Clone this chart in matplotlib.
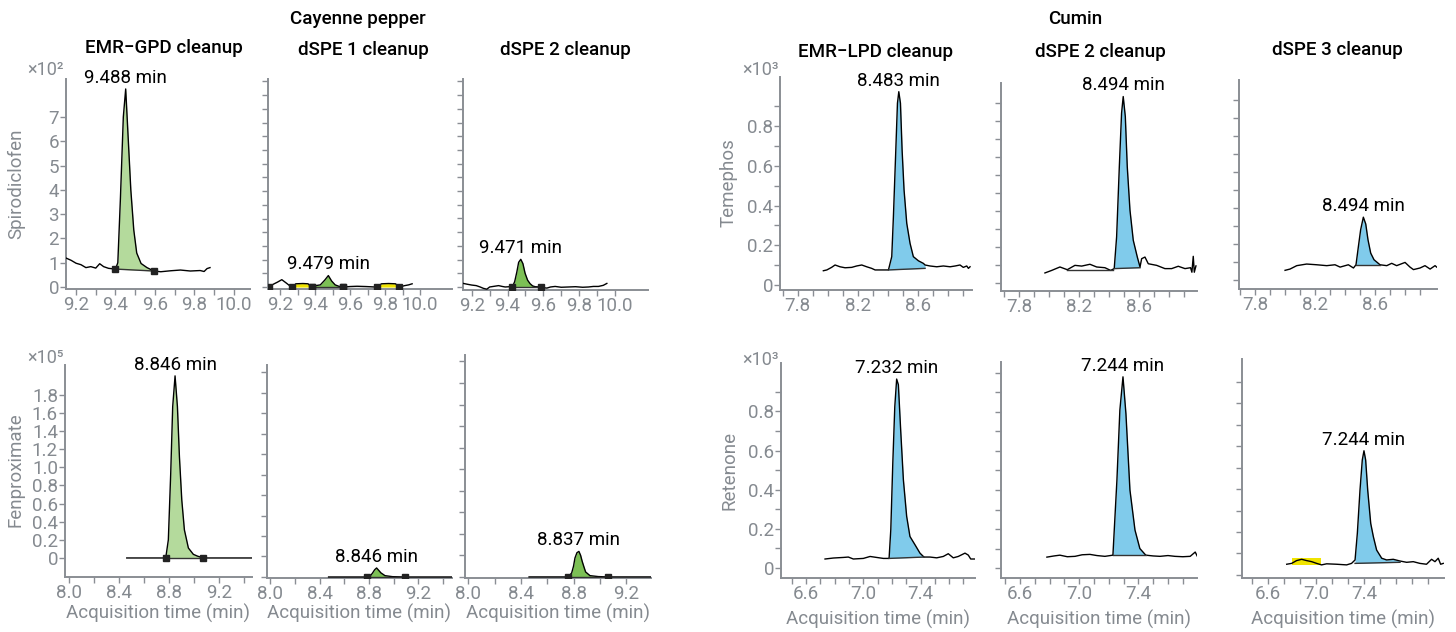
"""Chromatogramas: Cayenne pepper / Cumin, comparação de cleanups"""

import matplotlib
matplotlib.use('Agg')
import matplotlib.pyplot as plt
import numpy as np

plt.rcParams['font.family'] = ['Roboto', 'DejaVu Sans']

W, H = 1456, 632

# ---------------- dados (tempo em min, sinal no multiplicador do eixo) ----------------
# Cayenne pepper - Spirodiclofen (x10^2)
t_spiro_gpd = [9.150, 9.175, 9.200, 9.225, 9.250, 9.275, 9.300, 9.320, 9.340, 9.365,
               9.400, 9.412, 9.425, 9.440, 9.452, 9.463, 9.478, 9.493, 9.508, 9.530,
               9.560, 9.595, 9.630, 9.680, 9.730, 9.780, 9.830, 9.850, 9.865, 9.880]
y_spiro_gpd = [1.19, 1.10, 0.98, 0.92, 0.80, 0.84, 0.78, 0.96, 0.84, 0.77,
               0.74, 1.00, 3.60, 7.00, 8.15, 6.40, 4.00, 2.35, 1.40, 0.97,
               0.80, 0.66, 0.63, 0.67, 0.70, 0.66, 0.68, 0.64, 0.76, 0.80]

t_spiro_dspe1 = [9.139, 9.160, 9.185, 9.210, 9.235, 9.255, 9.270, 9.290, 9.330, 9.360,
                 9.381, 9.400, 9.430, 9.455, 9.476, 9.495, 9.515, 9.540, 9.562, 9.600,
                 9.640, 9.690, 9.752, 9.780, 9.820, 9.860, 9.882, 9.910, 9.935, 9.955]
y_spiro_dspe1 = [0.00, 0.10, 0.18, 0.27, 0.15, 0.05, 0.00, 0.12, 0.13, 0.12,
                 0.00, 0.05, 0.08, 0.25, 0.42, 0.22, 0.08, 0.02, 0.00, 0.02,
                 0.03, 0.02, 0.00, 0.12, 0.13, 0.12, 0.00, 0.05, 0.08, 0.12]

t_spiro_dspe2 = [9.153, 9.175, 9.200, 9.225, 9.247, 9.265, 9.284, 9.300, 9.320, 9.350,
                 9.370, 9.387, 9.410, 9.427, 9.440, 9.452, 9.462, 9.474, 9.486, 9.498,
                 9.512, 9.526, 9.540, 9.554, 9.585, 9.605, 9.620, 9.640, 9.666, 9.700,
                 9.740, 9.780, 9.820, 9.852, 9.880, 9.908, 9.935, 9.955]
y_spiro_dspe2 = [0.13, 0.10, 0.07, 0.05, 0.00, -0.05, -0.08, 0.00, 0.02, 0.05,
                 0.02, 0.00, 0.01, 0.00, 0.20, 0.55, 0.90, 1.01, 0.85, 0.50,
                 0.25, 0.12, 0.04, 0.01, 0.00, -0.03, -0.04, 0.00, 0.02, -0.01,
                 0.00, 0.01, -0.01, 0.00, 0.02, 0.02, 0.06, 0.13]

# Cayenne pepper - Fenproximate (x10^5)
t_fenp_gpd = [8.461, 8.550, 8.650, 8.774, 8.795, 8.814, 8.830, 8.849, 8.868, 8.884,
              8.903, 8.924, 8.956, 8.996, 9.030, 9.076, 9.180, 9.300, 9.465]
y_fenp_gpd = [0.0, 0.0, 0.0, 0.0, 0.20, 0.93, 1.67, 2.01, 1.67, 1.12,
              0.64, 0.31, 0.11, 0.04, 0.02, 0.0, 0.0, 0.0, 0.0]

t_fenp_dspe1 = [8.472, 8.600, 8.700, 8.783, 8.810, 8.829, 8.845, 8.861, 8.878, 8.896,
                8.929, 8.990, 9.088, 9.200, 9.350, 9.472]
y_fenp_dspe1 = [0.0, 0.0, 0.0, 0.0, 0.010, 0.040, 0.070, 0.088, 0.065, 0.040,
                0.013, 0.003, 0.0, 0.0, 0.0, 0.0]

t_fenp_dspe2 = [8.462, 8.600, 8.700, 8.760, 8.786, 8.800, 8.811, 8.826, 8.841, 8.854,
                8.866, 8.880, 8.892, 8.925, 8.989, 9.064, 9.200, 9.389]
y_fenp_dspe2 = [0.0, 0.0, 0.0, 0.0, 0.037, 0.100, 0.176, 0.225, 0.237, 0.200,
                0.144, 0.090, 0.046, 0.012, 0.003, 0.0, 0.0, 0.0]

# Cumin - Temephos (x10^3)
t_teme_lpd = [7.971, 7.994, 8.026, 8.049, 8.082, 8.116, 8.160, 8.193, 8.227, 8.260,
              8.293, 8.316, 8.356, 8.405, 8.427, 8.438, 8.454, 8.465, 8.474, 8.485,
              8.496, 8.509, 8.527, 8.549, 8.571, 8.605, 8.638, 8.649, 8.682, 8.727,
              8.771, 8.816, 8.850, 8.882, 8.904, 8.927, 8.938, 8.949]
y_teme_lpd = [0.072, 0.076, 0.089, 0.101, 0.092, 0.087, 0.089, 0.096, 0.101, 0.092,
              0.084, 0.076, 0.076, 0.076, 0.143, 0.344, 0.680, 0.916, 0.974, 0.916,
              0.680, 0.479, 0.311, 0.210, 0.143, 0.122, 0.109, 0.101, 0.096, 0.092,
              0.096, 0.092, 0.096, 0.101, 0.089, 0.096, 0.084, 0.092]

t_teme_dspe2 = [7.973, 8.018, 8.073, 8.122, 8.173, 8.218, 8.273, 8.318, 8.373, 8.411,
                8.435, 8.451, 8.469, 8.484, 8.495, 8.509, 8.522, 8.540, 8.562, 8.589,
                8.607, 8.618, 8.640, 8.662, 8.718, 8.773, 8.818, 8.862, 8.907, 8.944,
                8.953, 8.962, 8.969, 8.980]
y_teme_dspe2 = [0.056, 0.070, 0.089, 0.074, 0.098, 0.094, 0.104, 0.089, 0.085, 0.070,
                0.080, 0.256, 0.644, 0.941, 1.033, 0.922, 0.644, 0.404, 0.237, 0.144,
                0.089, 0.135, 0.144, 0.107, 0.098, 0.080, 0.080, 0.093, 0.080, 0.085,
                0.060, 0.148, 0.060, 0.095]
# linha de base antiga (segmento reto) no dSPE 2
t_teme_dspe2_old = [8.122, 8.430]
y_teme_dspe2_old = [0.072, 0.072]

t_teme_dspe3 = [8.000, 8.033, 8.078, 8.144, 8.211, 8.278, 8.333, 8.367, 8.422, 8.456,
                8.473, 8.489, 8.504, 8.522, 8.538, 8.553, 8.571, 8.593, 8.633, 8.678,
                8.711, 8.744, 8.800, 8.833, 8.856, 8.900, 8.933, 8.967, 9.000, 9.011]
y_teme_dspe3 = [0.052, 0.059, 0.078, 0.087, 0.083, 0.078, 0.083, 0.070, 0.083, 0.065,
                0.083, 0.185, 0.278, 0.348, 0.310, 0.222, 0.148, 0.111, 0.083, 0.078,
                0.091, 0.078, 0.096, 0.070, 0.056, 0.065, 0.078, 0.059, 0.078, 0.070]

# Cumin - Retenone (x10^3)
t_rete_lpd = [6.732, 6.790, 6.860, 6.895, 6.930, 7.000, 7.047, 7.093, 7.140, 7.180,
              7.192, 7.206, 7.220, 7.233, 7.245, 7.261, 7.280, 7.303, 7.326, 7.361,
              7.396, 7.424, 7.466, 7.513, 7.559, 7.594, 7.629, 7.664, 7.711, 7.734,
              7.751, 7.781]
y_rete_lpd = [0.046, 0.051, 0.054, 0.056, 0.046, 0.049, 0.059, 0.054, 0.049, 0.049,
              0.196, 0.536, 0.825, 0.965, 0.936, 0.706, 0.451, 0.264, 0.161, 0.119,
              0.076, 0.056, 0.056, 0.052, 0.059, 0.073, 0.052, 0.059, 0.076, 0.066,
              0.046, 0.046]

t_rete_dspe2 = [6.782, 6.830, 6.870, 6.920, 6.972, 7.020, 7.073, 7.120, 7.174, 7.228,
                7.255, 7.275, 7.296, 7.316, 7.343, 7.377, 7.410, 7.450, 7.500, 7.546,
                7.600, 7.647, 7.700, 7.750, 7.784, 7.797]
y_rete_dspe2 = [0.056, 0.062, 0.066, 0.058, 0.060, 0.068, 0.070, 0.064, 0.060, 0.066,
                0.450, 0.810, 0.980, 0.790, 0.400, 0.195, 0.100, 0.066, 0.062, 0.060,
                0.064, 0.060, 0.058, 0.060, 0.082, 0.062]

t_rete_dspe3 = [6.758, 6.799, 6.840, 6.882, 6.923, 6.965, 7.006, 7.047, 7.089, 7.172,
                7.255, 7.296, 7.325, 7.344, 7.366, 7.385, 7.399, 7.413, 7.430, 7.455,
                7.477, 7.504, 7.546, 7.587, 7.642, 7.698, 7.753, 7.808, 7.863, 7.918,
                7.960, 7.988, 8.015, 8.035, 8.057]
y_rete_dspe3 = [0.050, 0.054, 0.067, 0.073, 0.067, 0.062, 0.054, 0.047, 0.052, 0.050,
                0.047, 0.054, 0.070, 0.194, 0.395, 0.535, 0.578, 0.535, 0.395, 0.240,
                0.178, 0.116, 0.078, 0.070, 0.073, 0.065, 0.059, 0.062, 0.054, 0.050,
                0.073, 0.062, 0.078, 0.050, 0.054]

# rótulos de tempo de retenção
rt_labels = ['9.488 min', '9.479 min', '9.471 min', '8.846 min', '8.846 min', '8.837 min',
             '8.483 min', '8.494 min', '8.494 min', '7.232 min', '7.244 min', '7.244 min']

# integração: (início, fim, base início, base fim)
area_spiro_gpd = (9.400, 9.595, 0.74, 0.66)
area_spiro_dspe1 = (9.381, 9.562, 0.0, 0.0)
area_spiro_dspe2 = (9.427, 9.585, 0.0, 0.0)
area_fenp_gpd = (8.774, 9.076, 0.0, 0.0)
area_fenp_dspe1 = (8.783, 9.088, 0.0, 0.0)
area_fenp_dspe2 = (8.760, 9.064, 0.0, 0.0)
area_teme_lpd = (8.405, 8.649, 0.076, 0.084)
area_teme_dspe2 = (8.435, 8.607, 0.080, 0.085)
area_teme_dspe3 = (8.473, 8.633, 0.083, 0.083)
area_rete_lpd = (7.180, 7.424, 0.049, 0.056)
area_rete_dspe2 = (7.228, 7.450, 0.066, 0.066)
area_rete_dspe3 = (7.325, 7.698, 0.054, 0.059)

# regiões extras no dSPE 1 (spirodiclofen)
yellow_spiro_dspe1 = [(9.270, 9.381), (9.752, 9.882)]
gray_spiro_dspe1 = [(9.562, 9.752)]
marks_spiro_dspe1 = [9.139, 9.270, 9.381, 9.562, 9.752, 9.882]
# caixa amarela no dSPE 3 (retenone)
yellow_rete_dspe3_t = [6.800, 7.040]
yellow_rete_dspe3_y = [0.048, 0.080]

GRAY = '#8a8e94'
TXT_GRAY = '#858a90'
GREEN_LIGHT = '#b4da9c'
GREEN = '#7cc055'
BLUE = '#80cbeb'
YELLOW = '#f0e400'
FS = 13.5


def rect(left, top, right, bottom):
    return [left / W, 1 - bottom / H, (right - left) / W, (bottom - top) / H]


def fig_text(fig, px, py, s, **kw):
    fig.text(px / W, 1 - py / H, s, **kw)


def style_axes(ax):
    for s in ['top', 'right']:
        ax.spines[s].set_visible(False)
    for s in ['left', 'bottom']:
        ax.spines[s].set_color(GRAY)
        ax.spines[s].set_linewidth(1.4)
    ax.tick_params(which='both', colors=GRAY, labelcolor=TXT_GRAY, labelsize=FS,
                   length=4.0, width=1.0, pad=1.0)
    ax.patch.set_alpha(0)


def draw_trace(ax, t, y, area, color, label, markers=True):
    t = np.asarray(t)
    y = np.asarray(y)
    t0, t1, b0, b1 = area
    m = (t >= t0 - 1e-9) & (t <= t1 + 1e-9)
    base = np.interp(t[m], [t0, t1], [b0, b1])
    ax.fill_between(t[m], y[m], base, color=color, lw=0, zorder=1)
    ax.plot(t, y, color='black', lw=1.0, zorder=3)
    ax.plot([t0, t1], [b0, b1], color='#333333', lw=1.0, zorder=3)
    if markers:
        ax.plot([t0, t1], [b0, b1], 's', ms=4.5, color='#222222', zorder=4)
    ip = int(np.argmax(y))
    ax.annotate(label, (t[ip], y[ip]), xytext=(0, 1.5), textcoords='offset points',
                ha='center', va='bottom', fontsize=FS, color='black', zorder=5)


def fill_region(ax, t, y, t0, t1, color):
    t = np.asarray(t)
    y = np.asarray(y)
    m = (t >= t0 - 1e-9) & (t <= t1 + 1e-9)
    ax.fill_between(t[m], y[m], 0, color=color, lw=0, zorder=2)


fig = plt.figure(figsize=(W / 100, H / 100), dpi=100)

x_spiro = dict(major=[9.2, 9.4, 9.6, 9.8, 10.0], labels=['9.2', '9.4', '9.6', '9.8', '10.0'],
               minor=np.arange(9.2, 10.05, 0.1))
x_fenp = dict(major=[8.0, 8.4, 8.8, 9.2], labels=['8.0', '8.4', '8.8', '9.2'],
              minor=[8.2, 8.6, 9.0, 9.4])
x_teme = dict(major=[7.8, 8.2, 8.6], labels=['7.8', '8.2', '8.6'],
              minor=np.arange(7.7, 8.95, 0.1))
x_rete = dict(major=[6.6, 7.0, 7.4], labels=['6.6', '7.0', '7.4'],
              minor=np.arange(6.5, 7.75, 0.1))
x_rete3 = dict(major=[6.6, 7.0, 7.4], labels=['6.6', '7.0', '7.4'],
               minor=6.6 + np.arange(-1, 11) * 0.4 / 3)

panels = [
    # caixa px (esq, topo, dir, base), limites, ticks
    dict(box=(66, 79, 250, 289), xlim=(9.149, 10.083), ylim=(-0.08, 8.56), xt=x_spiro,
         yt=list(range(8)), yl=[str(v) for v in range(8)],
         t=t_spiro_gpd, y=y_spiro_gpd, area=area_spiro_gpd, color=GREEN_LIGHT),
    dict(box=(268, 79, 452, 289), xlim=(9.131, 10.183), ylim=(-0.07, 7.59), xt=x_spiro,
         yt=np.arange(0, 7.6, 0.5), yl=None,
         t=t_spiro_dspe1, y=y_spiro_dspe1, area=area_spiro_dspe1, color=GREEN),
    dict(box=(463, 79, 648, 290), xlim=(9.151, 10.185), ylim=(-0.11, 7.59), xt=x_spiro,
         yt=np.arange(0, 7.6, 0.5), yl=None,
         t=t_spiro_dspe2, y=y_spiro_dspe2, area=area_spiro_dspe2, color=GREEN),
    dict(box=(65, 365, 252, 577), xlim=(7.965, 9.467), ylim=(-0.21, 2.13), xt=x_fenp,
         yt=np.arange(0, 1.85, 0.2),
         yl=['0', '0.2', '0.4', '0.6', '0.8', '1.0', '1.2', '1.4', '1.6', '1.8'],
         t=t_fenp_gpd, y=y_fenp_gpd, area=area_fenp_gpd, color=GREEN_LIGHT),
    dict(box=(267, 365, 452, 578), xlim=(7.973, 9.472), ylim=(-0.01, 2.07), xt=x_fenp,
         yt=np.arange(0, 2.05, 0.2), yl=None,
         t=t_fenp_dspe1, y=y_fenp_dspe1, area=area_fenp_dspe1, color=GREEN),
    dict(box=(465, 355, 651, 578), xlim=(7.975, 9.389), ylim=(-0.01, 2.06), xt=x_fenp,
         yt=np.arange(0, 2.05, 0.2), yl=None,
         t=t_fenp_dspe2, y=y_fenp_dspe2, area=area_fenp_dspe2, color=GREEN),
    dict(box=(780, 77, 972, 290), xlim=(7.682, 8.962), ylim=(-0.025, 1.048), xt=x_teme,
         yt=[0, 0.2, 0.4, 0.6, 0.8], yl=['0', '0.2', '0.4', '0.6', '0.8'],
         ym=np.arange(0.1, 1.05, 0.2),
         t=t_teme_lpd, y=y_teme_lpd, area=area_teme_lpd, color=BLUE),
    dict(box=(1001, 83, 1197, 291), xlim=(7.680, 8.987), ylim=(-0.044, 1.108), xt=x_teme,
         yt=np.arange(0, 1.05, 0.1), yl=None,
         t=t_teme_dspe2, y=y_teme_dspe2, area=area_teme_dspe2, color=BLUE),
    dict(box=(1239, 80, 1437, 289), xlim=(7.693, 9.013), ylim=(-0.052, 1.112), xt=x_teme,
         yt=np.arange(0, 1.05, 0.1), yl=None,
         t=t_teme_dspe3, y=y_teme_dspe3, area=area_teme_dspe3, color=BLUE),
    dict(box=(781, 363, 975, 578), xlim=(6.424, 7.781), ylim=(-0.051, 1.047), xt=x_rete,
         yt=[0, 0.2, 0.4, 0.6, 0.8], yl=['0', '0.2', '0.4', '0.6', '0.8'],
         ym=np.arange(0.1, 1.05, 0.2),
         t=t_rete_lpd, y=y_rete_lpd, area=area_rete_lpd, color=BLUE),
    dict(box=(1001, 362, 1197, 578), xlim=(6.472, 7.796), ylim=(-0.051, 1.056), xt=x_rete,
         yt=np.arange(0, 1.05, 0.1), yl=None,
         t=t_rete_dspe2, y=y_rete_dspe2, area=area_rete_dspe2, color=BLUE),
    dict(box=(1242, 359, 1444, 578), xlim=(6.387, 8.063), ylim=(-0.014, 1.005), xt=x_rete3,
         yt=np.arange(0, 1.0, 0.1), yl=None,
         t=t_rete_dspe3, y=y_rete_dspe3, area=area_rete_dspe3, color=BLUE),
]

axes = []
for i, p in enumerate(panels):
    ax = fig.add_axes(rect(*p['box']))
    style_axes(ax)
    ax.set_xlim(*p['xlim'])
    ax.set_ylim(*p['ylim'])
    xt = p['xt']
    ax.set_xticks(xt['major'], xt['labels'])
    ax.set_xticks([v for v in xt['minor'] if p['xlim'][0] <= v <= p['xlim'][1]], minor=True)
    if p['yl'] is None:
        ax.set_yticks(p['yt'], [''] * len(p['yt']))
    else:
        ax.set_yticks(p['yt'], p['yl'])
    if 'ym' in p:
        ax.set_yticks(p['ym'], minor=True)
    draw_trace(ax, p['t'], p['y'], p['area'], p['color'], rt_labels[i], markers=(i < 6))
    axes.append(ax)

# detalhes extras
ax = axes[1]
for t0, t1 in yellow_spiro_dspe1:
    fill_region(ax, t_spiro_dspe1, y_spiro_dspe1, t0, t1, YELLOW)
for t0, t1 in gray_spiro_dspe1:
    fill_region(ax, t_spiro_dspe1, y_spiro_dspe1, t0, t1, '#d9d9d9')
ax.plot(marks_spiro_dspe1, np.interp(marks_spiro_dspe1, t_spiro_dspe1, y_spiro_dspe1),
        's', ms=4.5, color='#222222', zorder=4)

axes[7].plot(t_teme_dspe2_old, y_teme_dspe2_old, color='#333333', lw=1.0, zorder=3)

axes[11].fill_between(yellow_rete_dspe3_t, yellow_rete_dspe3_y[0], yellow_rete_dspe3_y[1],
                      color=YELLOW, lw=0, zorder=2)

# títulos
fig_text(fig, 358, 19, 'Cayenne pepper', ha='center', va='center', fontsize=FS, fontweight='medium')
fig_text(fig, 1075, 19, 'Cumin', ha='center', va='center', fontsize=FS, fontweight='medium')
col_titles = [(164, 48, 'EMR\u2212GPD cleanup'), (363, 50, 'dSPE 1 cleanup'),
              (565, 50, 'dSPE 2 cleanup'), (876, 52, 'EMR\u2212LPD cleanup'),
              (1100, 52, 'dSPE 2 cleanup'), (1337, 50, 'dSPE 3 cleanup')]
for px, py, s in col_titles:
    fig_text(fig, px, py, s, ha='center', va='center', fontsize=FS, fontweight='medium')

# rótulos dos eixos
for px, py, s in [(16, 184, 'Spirodiclofen'), (16, 470, 'Fenproximate'),
                  (729, 183, 'Temephos'), (729, 470, 'Retenone')]:
    fig_text(fig, px, py, s, ha='center', va='center', rotation=90, fontsize=FS, color=TXT_GRAY)

for px, py in [(158, 613), (359, 613), (558, 613), (878, 619), (1099, 619), (1343, 619)]:
    fig_text(fig, px, py, 'Acquisition time (min)', ha='center', va='center',
             fontsize=FS, color=TXT_GRAY)

for px, py, s in [(45, 70, '\u00d710\u00b2'), (45, 358, '\u00d710\u2075'),
                  (760, 70, '\u00d710\u00b3'), (760, 360, '\u00d710\u00b3')]:
    fig_text(fig, px, py, s, ha='center', va='center', fontsize=13, color=TXT_GRAY)

plt.savefig('out.png', dpi=100)
plt.close()
print("Gráfico salvo: out.png")
